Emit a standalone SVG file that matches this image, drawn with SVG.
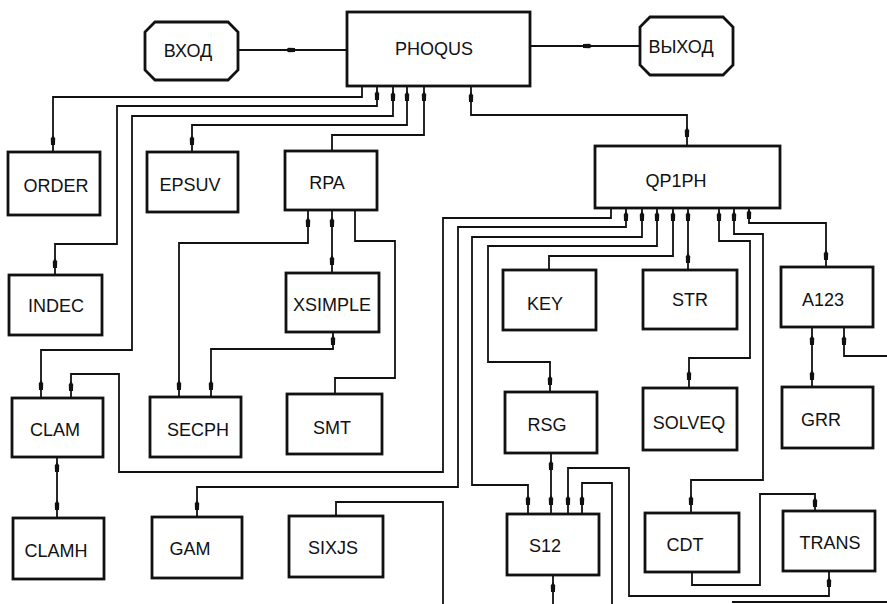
<svg xmlns="http://www.w3.org/2000/svg" width="887" height="604" viewBox="0 0 887 604">
<style>
.box{fill:#fff;stroke:#111;stroke-width:2.8}
.ln{fill:none;stroke:#111;stroke-width:1.8}
.t{font-family:"Liberation Sans",Arial,sans-serif;font-size:18px;fill:#111;text-anchor:middle}
.tk{fill:#111}
</style>
<defs>
<path id="tv" d="M0,-5 L2.2,-1.5 L2,5 L-2,5 L-2.2,-1.5 Z"/>
<path id="th" d="M-5,0 L-1.5,-2.2 L5,-2 L5,2 L-1.5,2.2 Z"/>
</defs>
<rect width="887" height="604" fill="#fff"/>
<g id="connectors">
<polyline class="ln" points="238,50 347,50"/>
<polyline class="ln" points="530,46 640,46"/>
<polyline class="ln" points="362,86 362,97 53,97 53,152"/>
<polyline class="ln" points="377,86 377,106 117,106 117,244 55,244 55,275"/>
<polyline class="ln" points="393,86 393,116 132,116 132,350 41,350 41,398"/>
<polyline class="ln" points="407,86 407,125 192,125 192,152"/>
<polyline class="ln" points="424,86 424,135 332,135 332,151"/>
<polyline class="ln" points="471,86 471,115 687,115 687,146"/>
<polyline class="ln" points="308,210 308,243 179,243 179,397"/>
<polyline class="ln" points="332,210 332,273"/>
<polyline class="ln" points="355,210 355,241 395,241 395,378 335,378 335,394"/>
<polyline class="ln" points="333,332 333,349 211,349 211,397"/>
<polyline class="ln" points="71,398 71,374 119,374 119,472 443,472 443,218 611,218 611,208"/>
<polyline class="ln" points="57,457 57,518"/>
<polyline class="ln" points="197,517 197,487 458,487 458,227 626,227 626,208"/>
<polyline class="ln" points="528,514 528,485 472,485 472,237 642,237 642,208"/>
<polyline class="ln" points="657,208 657,246 488,246 488,362 550,362 550,392"/>
<polyline class="ln" points="549,270 549,256 673,256 673,208"/>
<polyline class="ln" points="688,208 688,270"/>
<polyline class="ln" points="551,453 551,514"/>
<polyline class="ln" points="568,514 568,468 629,468 629,596 829,596 829,571"/>
<polyline class="ln" points="582,514 582,483 612,483 612,604"/>
<polyline class="ln" points="553,575 553,604"/>
<polyline class="ln" points="336,516 336,502 443,502 443,604"/>
<polyline class="ln" points="719,208 719,241 750,241 750,358 689,358 689,388"/>
<polyline class="ln" points="734,208 734,234 763,234 763,480 691,480 691,513"/>
<polyline class="ln" points="749,208 749,223 826,223 826,267"/>
<polyline class="ln" points="812,327 812,387"/>
<polyline class="ln" points="844,327 844,356 887,356"/>
<polyline class="ln" points="692,572 692,585 760,585 760,494 815,494 815,511"/>
<polyline class="ln" points="732,602 887,602"/>
<g class="tk">
<use href="#th" x="290" y="50"/>
<use href="#th" x="588" y="46" transform="rotate(180 588 46)"/>
<use href="#tv" x="53" y="140"/>
<use href="#tv" x="377" y="95"/>
<use href="#tv" x="55" y="263"/>
<use href="#tv" x="393" y="96"/>
<use href="#tv" x="41" y="385"/>
<use href="#tv" x="407" y="96"/>
<use href="#tv" x="192" y="140"/>
<use href="#tv" x="424" y="96"/>
<use href="#tv" x="471" y="97"/>
<use href="#tv" x="687" y="132"/>
<use href="#tv" x="308" y="222"/>
<use href="#tv" x="179" y="385"/>
<use href="#tv" x="332" y="222"/>
<use href="#tv" x="332" y="260"/>
<use href="#tv" x="333" y="340"/>
<use href="#tv" x="211" y="385"/>
<use href="#tv" x="71" y="386"/>
<use href="#tv" x="57" y="467"/>
<use href="#tv" x="57" y="505"/>
<use href="#tv" x="197" y="505"/>
<use href="#tv" x="626" y="216"/>
<use href="#tv" x="528" y="500"/>
<use href="#tv" x="642" y="216"/>
<use href="#tv" x="657" y="216"/>
<use href="#tv" x="550" y="380"/>
<use href="#tv" x="673" y="216"/>
<use href="#tv" x="688" y="216"/>
<use href="#tv" x="688" y="258"/>
<use href="#tv" x="551" y="465"/>
<use href="#tv" x="551" y="500"/>
<use href="#tv" x="568" y="500"/>
<use href="#tv" x="829" y="582"/>
<use href="#tv" x="582" y="500"/>
<use href="#tv" x="553" y="587"/>
<use href="#tv" x="719" y="216"/>
<use href="#tv" x="689" y="375"/>
<use href="#tv" x="734" y="216"/>
<use href="#tv" x="691" y="500"/>
<use href="#tv" x="749" y="214"/>
<use href="#tv" x="826" y="255"/>
<use href="#tv" x="812" y="340"/>
<use href="#tv" x="812" y="375"/>
<use href="#tv" x="844" y="340"/>
<use href="#tv" x="815" y="502"/>
</g>
</g>
<g id="vhod"><path class="box" d="M155,22 H228 L238,32 V70 L228,80 H155 L145,70 V32 Z"/><text class="t" x="188" y="57">ВХОД</text></g>
<g id="phoqus"><rect class="box" x="347" y="12" width="183" height="74"/><text class="t" x="434" y="55">PHOQUS</text></g>
<g id="vyhod"><path class="box" d="M650,17 H723 L733,27 V65 L723,75 H650 L640,65 V27 Z"/><text class="t" x="681" y="53">ВЫХОД</text></g>
<g id="order"><rect class="box" x="8" y="152" width="92" height="63"/><text class="t" x="56" y="192">ORDER</text></g>
<g id="epsuv"><rect class="box" x="147" y="152" width="91" height="60"/><text class="t" x="190" y="191">EPSUV</text></g>
<g id="rpa"><rect class="box" x="285" y="151" width="92" height="59"/><text class="t" x="327" y="189">RPA</text></g>
<g id="indec"><rect class="box" x="9" y="275" width="93" height="60"/><text class="t" x="56" y="312">INDEC</text></g>
<g id="xsimple"><rect class="box" x="286" y="273" width="93" height="59"/><text class="t" x="332" y="311">XSIMPLE</text></g>
<g id="clam"><rect class="box" x="12" y="398" width="91" height="59"/><text class="t" x="55" y="436">CLAM</text></g>
<g id="secph"><rect class="box" x="150" y="397" width="91" height="60"/><text class="t" x="198" y="436">SECPH</text></g>
<g id="smt"><rect class="box" x="287" y="394" width="95" height="60"/><text class="t" x="332" y="434">SMT</text></g>
<g id="clamh"><rect class="box" x="13" y="518" width="91" height="61"/><text class="t" x="56" y="557">CLAMH</text></g>
<g id="gam"><rect class="box" x="152" y="517" width="90" height="61"/><text class="t" x="190" y="555">GAM</text></g>
<g id="sixjs"><rect class="box" x="289" y="516" width="94" height="61"/><text class="t" x="333" y="554">SIXJS</text></g>
<g id="qp1ph"><rect class="box" x="595" y="146" width="185" height="62"/><text class="t" x="676" y="187">QP1PH</text></g>
<g id="key"><rect class="box" x="503" y="270" width="93" height="60"/><text class="t" x="545" y="310">KEY</text></g>
<g id="str"><rect class="box" x="643" y="270" width="94" height="59"/><text class="t" x="690" y="306">STR</text></g>
<g id="a123"><rect class="box" x="781" y="267" width="92" height="60"/><text class="t" x="823" y="306">A123</text></g>
<g id="rsg"><rect class="box" x="505" y="392" width="92" height="61"/><text class="t" x="547" y="431">RSG</text></g>
<g id="solveq"><rect class="box" x="643" y="388" width="94" height="62"/><text class="t" x="689" y="429">SOLVEQ</text></g>
<g id="grr"><rect class="box" x="782" y="387" width="91" height="61"/><text class="t" x="821" y="426">GRR</text></g>
<g id="s12"><rect class="box" x="507" y="514" width="92" height="61"/><text class="t" x="545" y="552">S12</text></g>
<g id="cdt"><rect class="box" x="645" y="513" width="94" height="59"/><text class="t" x="685" y="551">CDT</text></g>
<g id="trans"><rect class="box" x="783" y="511" width="92" height="60"/><text class="t" x="830" y="549">TRANS</text></g>
</svg>
